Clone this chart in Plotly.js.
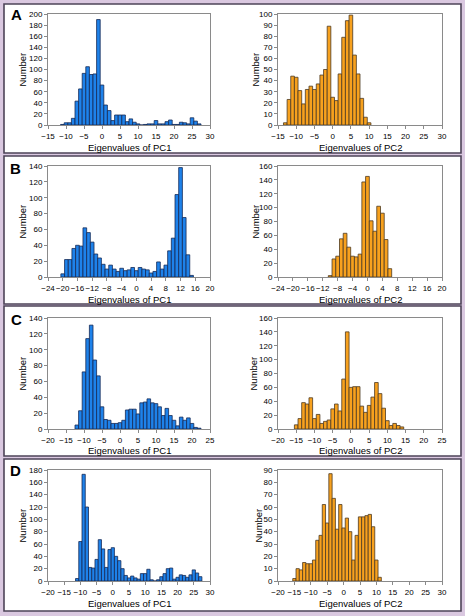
<!DOCTYPE html>
<html>
<head>
<meta charset="utf-8">
<script src="https://cdn.plot.ly/plotly-3.0.1.min.js"></script>
<style>html,body{margin:0;padding:0;background:#dac8e0;}#chart{width:465px;height:616px;}</style>
</head>
<body>
<div id="chart"></div>
<script>
// ---- Data: bin centres (eigenvalue) and counts ----
const A_PC1_x = [-11,-10,-9,-8,-7,-6,-5,-4,-3,-2,-1,0,1,2,3,4,5,6,7,8,9,10,11,12,13,14,15,16,17,18,19,20,21,22,23,24,25,26,27];
const A_PC1_y = [1,4,4,12,43,65,93,105,91,92,190,72,36,26,8,18,18,18,6,11,5,2,0,1,2,2,8,2,2,6,9,1,1,5,4,2,13,7,2];

const A_PC2_x = [-13,-12,-11,-10,-9,-8,-7,-6,-5,-4,-3,-2,-1,0,1,2,3,4,5,6,7,8,9,10];
const A_PC2_y = [2,23,44,43,31,19,32,35,32,37,45,50,89,25,22,46,79,94,99,63,46,24,7,2];

const B_PC1_x = [-20,-19,-18,-17,-16,-15,-14,-13,-12,-11,-10,-9,-8,-7,-6,-5,-4,-3,-2,-1,0,1,2,3,4,5,6,7,8,9,10,11,12,13,14,15];
const B_PC1_y = [4,22,22,36,40,39,62,56,44,29,24,16,10,15,10,7,11,8,9,12,8,12,10,9,5,7,19,10,15,33,49,104,138,75,28,2];

const B_PC2_x = [-10,-9,-8,-7,-6,-5,-4,-3,-2,-1,0,1,2,3,4,5,6];
const B_PC2_y = [2,26,30,55,63,43,30,29,33,137,145,81,66,102,92,54,12];

const C_PC1_x = [-12,-11,-10,-9,-8,-7,-6,-5,-4,-3,-2,-1,0,1,2,3,4,5,6,7,8,9,10,11,12,13,14,15,16,17,18,19,20,21,22];
const C_PC1_y = [5,23,72,114,131,87,67,28,12,11,7,7,8,11,24,25,25,19,33,34,38,33,32,28,17,26,17,11,4,15,11,14,7,2,1];

const C_PC2_x = [-15,-14,-13,-12,-11,-10,-9,-8,-7,-6,-5,-4,-3,-2,-1,0,1,2,3,4,5,6,7,8,9,10,11,12,13,14];
const C_PC2_y = [6,15,38,36,45,15,21,8,11,13,29,36,26,72,140,60,61,61,33,24,34,46,67,51,30,12,5,8,5,3];

const D_PC1_x = [-11,-10,-9,-8,-7,-6,-5,-4,-3,-2,-1,0,1,2,3,4,5,6,7,8,9,10,11,12,13,14,15,16,17,18,19,20,21,22,23,24,25,26,27];
const D_PC1_y = [4,64,173,120,22,21,35,67,52,22,51,54,40,33,20,9,5,8,5,3,12,12,19,2,0,2,7,12,20,21,3,6,10,9,6,10,18,13,7];

const D_PC2_x = [-15,-14,-13,-12,-11,-10,-9,-8,-7,-6,-5,-4,-3,-2,-1,0,1,2,3,4,5,6,7,8,9,10,11];
const D_PC2_y = [2,10,9,15,14,14,17,33,37,62,47,87,67,42,62,43,51,40,17,37,52,52,53,54,44,17,3];

const panelLabels = ["A","B","C","D"];
const xTitles = ["Eigenvalues of PC1","Eigenvalues of PC2"];
const yTitle = "Number";

// axis ranges / ticks per subplot [xmin,xmax,dtick], [ymax, ydtick]
const xRanges = [[-15,30,5],[-15,30,5],[-24,20,4],[-24,20,4],[-20,25,5],[-20,25,5],[-20,30,5],[-20,30,5]];
const yRanges = [[200,20],[100,10],[140,20],[160,20],[140,20],[160,20],[180,20],[90,10]];

// ---- Layout geometry (pixels) ----
const W = 465, H = 616;
const colX = [[48,210],[278,442]];
const rowY = [[14,125],[166,277],[318,429],[470,581]];
const panelY = [[4,153],[156,304],[306,456],[459,611]];
const xTitleY = [147,299,451,603];
const yTitleX = [[22,255],[22,255],[22,253],[22,258]];
const letterPos = [[16,15],[15,168],[16,319],[15,470]];

const px = v => v / W;
const py = v => 1 - v / H;

const series = [
  [A_PC1_x,A_PC1_y],[A_PC2_x,A_PC2_y],
  [B_PC1_x,B_PC1_y],[B_PC2_x,B_PC2_y],
  [C_PC1_x,C_PC1_y],[C_PC2_x,C_PC2_y],
  [D_PC1_x,D_PC1_y],[D_PC2_x,D_PC2_y]
];

const FONT = "Liberation Sans, Arial, sans-serif";
const traces = [];
const layout = {
  width: W, height: H,
  margin: {l:0,r:0,t:0,b:0},
  paper_bgcolor: "#dac8e0",
  plot_bgcolor: "#ffffff",
  showlegend: false,
  bargap: 0,
  font: {family: FONT, size: 8, color: "#000"},
  shapes: [], annotations: []
};

series.forEach((s, i) => {
  const r = Math.floor(i/2), c = i % 2;
  const n = i + 1;
  const xa = n === 1 ? "x" : "x" + n;
  const ya = n === 1 ? "y" : "y" + n;
  const isPC1 = c === 0;
  traces.push({
    type: "bar", x: s[0], y: s[1], width: 1,
    xaxis: xa, yaxis: ya,
    marker: {
      color: isPC1 ? "#1e82ea" : "#f7a11e",
      line: {color: isPC1 ? "#152a55" : "#4d3a22", width: 0.8}
    },
    hoverinfo: "skip"
  });
  const xr = xRanges[i], yr = yRanges[i];
  const axCommon = {
    showline: true, mirror: true, linecolor: "#8a8a8a", linewidth: 1,
    ticks: "outside", ticklen: 3, tickcolor: "#8a8a8a", tickwidth: 1,
    showgrid: false, zeroline: false, fixedrange: true, tickangle: 0,
    tickfont: {family: FONT, size: 8, color: "#000"}
  };
  layout["xaxis" + (n === 1 ? "" : n)] = Object.assign({}, axCommon, {
    domain: [px(colX[c][0]), px(colX[c][1])],
    range: [xr[0], xr[1]], dtick: xr[2], tick0: 0,
    anchor: ya
  });
  layout["yaxis" + (n === 1 ? "" : n)] = Object.assign({}, axCommon, {
    domain: [py(rowY[r][1]), py(rowY[r][0])],
    range: [0, yr[0]], dtick: yr[1], tick0: 0,
    anchor: xa
  });
  layout.annotations.push({
    text: xTitles[c], xref: "paper", yref: "paper",
    x: px((colX[c][0] + colX[c][1]) / 2), y: py(xTitleY[r]),
    xanchor: "center", yanchor: "middle", showarrow: false,
    font: {family: FONT, size: 9.5, color: "#000"}
  });
  layout.annotations.push({
    text: yTitle, xref: "paper", yref: "paper", textangle: -90,
    x: px(yTitleX[r][c]), y: py((rowY[r][0] + rowY[r][1]) / 2),
    xanchor: "center", yanchor: "middle", showarrow: false,
    font: {family: FONT, size: 9.5, color: "#000"}
  });
});

panelY.forEach((p, r) => {
  layout.shapes.push({
    type: "rect", xref: "paper", yref: "paper", layer: "below",
    x0: px(4), x1: px(461), y0: py(p[1]), y1: py(p[0]),
    fillcolor: "#ffffff", line: {color: "#4e4458", width: 1.6}
  });
  layout.annotations.push({
    text: "<b>" + panelLabels[r] + "</b>", xref: "paper", yref: "paper",
    x: px(letterPos[r][0]), y: py(letterPos[r][1]),
    xanchor: "center", yanchor: "middle", showarrow: false,
    font: {family: FONT, size: 15, color: "#000"}
  });
});

Plotly.newPlot("chart", traces, layout, {staticPlot: true, displayModeBar: false});
</script>
</body>
</html>
